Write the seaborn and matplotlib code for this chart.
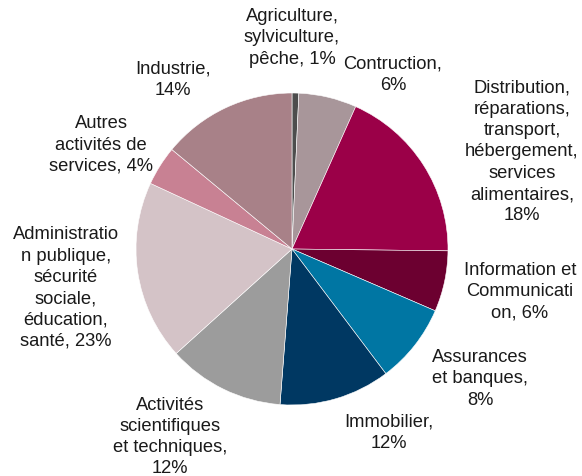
import matplotlib
matplotlib.use("Agg")
import matplotlib.pyplot as plt
import seaborn as sns

sns.set_theme(style="white")
plt.rcParams['font.family'] = ['Liberation Sans', 'DejaVu Sans']

sectors = ["Agriculture", "Construction", "Distribution", "Information", "Assurances",
           "Immobilier", "Activités", "Administration", "Autres", "Industrie"]
shares = [0.7, 6.0, 18.5, 6.3, 8.25, 11.5, 12.1, 18.6, 4.1, 14.0]
labels = [
    "Agriculture,\nsylviculture,\npêche, 1%",
    "Contruction,\n6%",
    "Distribution,\nréparations,\ntransport,\nhébergement,\nservices\nalimentaires,\n18%",
    "Information et\nCommunicati\non, 6%",
    "Assurances\net banques,\n8%",
    "Immobilier,\n12%",
    "Activités\nscientifiques\net techniques,\n12%",
    "Administratio\nn publique,\nsécurité\nsociale,\néducation,\nsanté, 23%",
    "Autres\nactivités de\nservices, 4%",
    "Industrie,\n14%",
]
colors = ["#4d4d4d", "#a8969a", "#9b0048", "#6c0030", "#0076a3",
          "#003862", "#9c9c9c", "#d4c3c7", "#c88193", "#a88188"]

# label centre positions in pixels (x, y from top)
label_pos = [(292, 38), (393, 75), (522, 152), (520, 292), (480, 379),
             (389, 433), (170, 437), (66, 288), (101, 145), (173, 80)]

W, H = 582, 477
fig = plt.figure(figsize=(W / 100, H / 100), dpi=100)
ax = fig.add_axes([0, 0, 1, 1])

ax.pie(shares, colors=colors, startangle=90, counterclock=False,
       center=(292, H - 250), radius=156, frame=True,
       wedgeprops=dict(edgecolor='white', linewidth=0.4))
ax.set_xlim(0, W)
ax.set_ylim(0, H)
ax.set_aspect('equal')
ax.axis('off')

for lab, (x, y) in zip(labels, label_pos):
    ax.text(x, H - y, lab, ha='center', va='center', fontsize=13.2,
            color='#1a1a1a', linespacing=1.33)

fig.savefig("out.png", dpi=100)
